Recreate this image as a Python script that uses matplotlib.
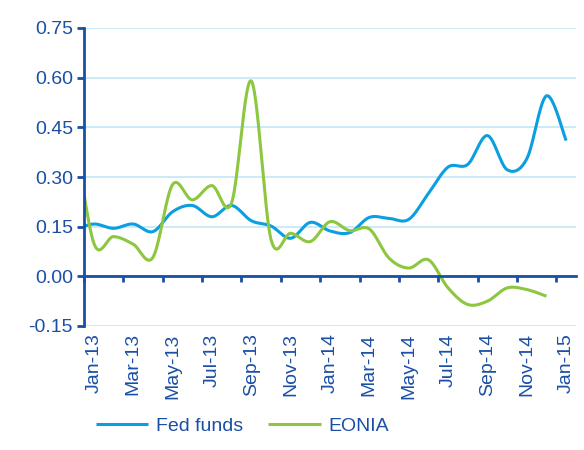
import matplotlib.pyplot as plt
import numpy as np

plt.rcParams['font.family'] = ['Liberation Sans', 'DejaVu Sans']

# month index: -1 = Dec-12, 0 = Jan-13 ... 24 = Jan-15
months = np.arange(-1, 25)
fed_funds = [0.14, 0.158, 0.145, 0.158, 0.135, 0.195, 0.214, 0.18, 0.214, 0.168,
             0.152, 0.115, 0.163, 0.137, 0.132, 0.178, 0.175, 0.172, 0.25, 0.33,
             0.338, 0.425, 0.322, 0.355, 0.545, 0.41]
eonia = [0.45, 0.1, 0.12, 0.097, 0.057, 0.277, 0.231, 0.274, 0.222, 0.59,
         0.112, 0.13, 0.105, 0.165, 0.138, 0.143, 0.055, 0.025, 0.05, -0.035,
         -0.085, -0.075, -0.035, -0.04, -0.06]
tick_labels = ['Jan-13', 'Mar-13', 'May-13', 'Jul-13', 'Sep-13', 'Nov-13', 'Jan-14',
               'Mar-14', 'May-14', 'Jul-14', 'Sep-14', 'Nov-14', 'Jan-15']

blue = '#0A9FE0'
green = '#8DC63F'
dark = '#1A4FA6'
grid = '#C4E6F6'


def smooth(x, y, n=30):
    # Catmull-Rom curve through the points (Excel-style smoothed line)
    x = np.asarray(x, float)
    y = np.asarray(y, float)
    px = np.concatenate([[x[0]], x, [x[-1]]])
    py = np.concatenate([[y[0]], y, [y[-1]]])
    t = np.linspace(0, 1, n, endpoint=False)
    xs, ys = [], []
    for i in range(1, len(px) - 2):
        for p, out in ((px, xs), (py, ys)):
            p0, p1, p2, p3 = p[i - 1], p[i], p[i + 1], p[i + 2]
            out.append(0.5 * (2 * p1 + (-p0 + p2) * t + (2 * p0 - 5 * p1 + 4 * p2 - p3) * t ** 2
                              + (-p0 + 3 * p1 - 3 * p2 + p3) * t ** 3))
    xs.append([x[-1]])
    ys.append([y[-1]])
    return np.concatenate(xs), np.concatenate(ys)


fig = plt.figure(figsize=(5.84, 4.5), dpi=100)
ax = fig.add_axes([84 / 584, 1 - 326 / 450, 492 / 584, 298 / 450])

yticks = np.arange(-0.15, 0.76, 0.15)
for v in yticks:
    ax.axhline(v, color=grid, lw=1.2, zorder=0)

fx, fy = smooth(months, fed_funds)
ex, ey = smooth(months[:len(eonia)], eonia)
ax.plot(fx, fy, color=blue, lw=2.2, label='Fed funds', solid_capstyle='butt')
ax.plot(ex, ey, color=green, lw=2.2, label='EONIA', solid_capstyle='butt')

ax.set_xlim(-0.5, 24.5)
ax.set_ylim(-0.15, 0.75)
ax.set_yticks(yticks)
ax.set_yticklabels(['%.2f' % v for v in yticks])

ax.spines['top'].set_visible(False)
ax.spines['right'].set_visible(False)
ax.spines['left'].set_color(dark)
ax.spines['left'].set_linewidth(2)
ax.spines['bottom'].set_position(('data', 0))
ax.spines['bottom'].set_color(dark)
ax.spines['bottom'].set_linewidth(2)

ax.set_xticks(np.arange(0, 25, 2))
ax.set_xticklabels(tick_labels, rotation=90)
ax.set_xticks(np.arange(-0.5, 24, 2), minor=True)
ax.tick_params(axis='x', which='major', length=0, pad=41, labelsize=14, labelcolor=dark)
ax.tick_params(axis='x', which='minor', length=4, width=2, color=dark, direction='out')
ax.tick_params(axis='y', length=5, width=2, color=dark, labelsize=14, labelcolor=dark, pad=3)

fig.legend(loc='lower center', bbox_to_anchor=(0.415, -0.005), ncol=2, frameon=False,
           fontsize=14, handlelength=2.7, columnspacing=1.3, handletextpad=0.4,
           labelcolor=dark)

plt.savefig('out.png', dpi=100)
